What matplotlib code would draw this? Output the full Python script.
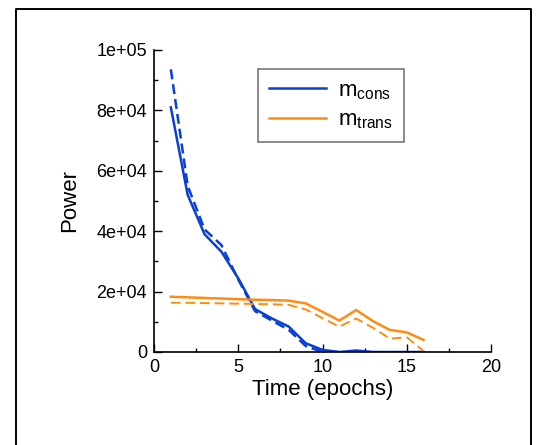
import matplotlib
matplotlib.use("Agg")
import matplotlib.pyplot as plt
from matplotlib.lines import Line2D
from matplotlib.ticker import MultipleLocator, FuncFormatter

plt.rcParams['font.family'] = ['Liberation Sans', 'DejaVu Sans']
plt.rcParams['mathtext.fontset'] = 'custom'
plt.rcParams['mathtext.rm'] = 'Liberation Sans'
plt.rcParams['mathtext.default'] = 'regular'

epochs = [1, 2, 3, 4, 5, 6, 7, 8, 9, 10, 11, 12, 13, 14, 15, 16]
cons_solid = [81000, 52000, 39000, 33200, 24400, 14200, 11100, 8400, 2900, 700, 0, 500, 0, 0, 0, 0]
cons_dashed = [93600, 55000, 40600, 35400, 24000, 13500, 10400, 7300, 2000, 0, -300, 0, -200, -200, -200, -200]
trans_solid = [18300, 18100, 17900, 17700, 17500, 17300, 17200, 17000, 16100, 13300, 10400, 13900, 10200, 7300, 6500, 4000]
trans_dashed = [16300, 16300, 16200, 16100, 16000, 15900, 15800, 15600, 14100, 11200, 8400, 11100, 8000, 4400, 4900, 300]

blue = '#0a3fd4'
orange = '#ff8c12'

fig = plt.figure(figsize=(5.38, 4.45), dpi=100)
ax = fig.add_axes([154/538, 1-352/445, (491-154)/538, (352-50)/445])

ax.plot(epochs, cons_solid, color=blue, lw=1.8, label=r'm$_{cons}$')
ax.plot(epochs, cons_dashed, color=blue, lw=1.8, ls=(0, (4, 2)))
ax.plot(epochs, trans_solid, color=orange, lw=1.8, label=r'm$_{trans}$')
ax.plot(epochs, trans_dashed, color=orange, lw=1.4, ls=(0, (5, 2.5)))

ax.set_xlim(0, 20)
ax.set_ylim(0, 100000)
ax.xaxis.set_major_locator(MultipleLocator(5))
ax.xaxis.set_minor_locator(MultipleLocator(2.5))
ax.yaxis.set_major_locator(MultipleLocator(20000))
ax.yaxis.set_minor_locator(MultipleLocator(10000))

def yfmt(v, pos):
    if v == 0:
        return '0'
    if v >= 100000:
        return '1e+05'
    return '%de+04' % round(v / 10**4)
ax.yaxis.set_major_formatter(FuncFormatter(yfmt))

for s in ['top', 'right']:
    ax.spines[s].set_visible(False)
for s in ['left', 'bottom']:
    ax.spines[s].set_linewidth(1.2)
ax.tick_params(which='major', direction='in', length=6, width=1, labelsize=13, pad=5)
ax.tick_params(which='minor', direction='in', length=3, width=1)

ax.set_xlabel('Time (epochs)', fontsize=16, labelpad=2)
ax.set_ylabel('Power', fontsize=16, labelpad=12)

leg = ax.legend(loc='upper left', bbox_to_anchor=((258-154)/337, 1-(69-50)/302),
                fontsize=16, frameon=True, fancybox=False, handlelength=2.55,
                borderpad=0.5, labelspacing=0.35, handletextpad=0.55, borderaxespad=0)
leg.get_frame().set_edgecolor('#555555')
leg.get_frame().set_linewidth(1.2)

# figure frame
fx0, fx1, fy1 = 16/538, 531/538, 1-9/445
fig.add_artist(Line2D([fx0, fx0, fx1, fx1], [0, fy1, fy1, 0], color='black', lw=1.4,
                      transform=fig.transFigure))

fig.savefig('out.png', dpi=100)
